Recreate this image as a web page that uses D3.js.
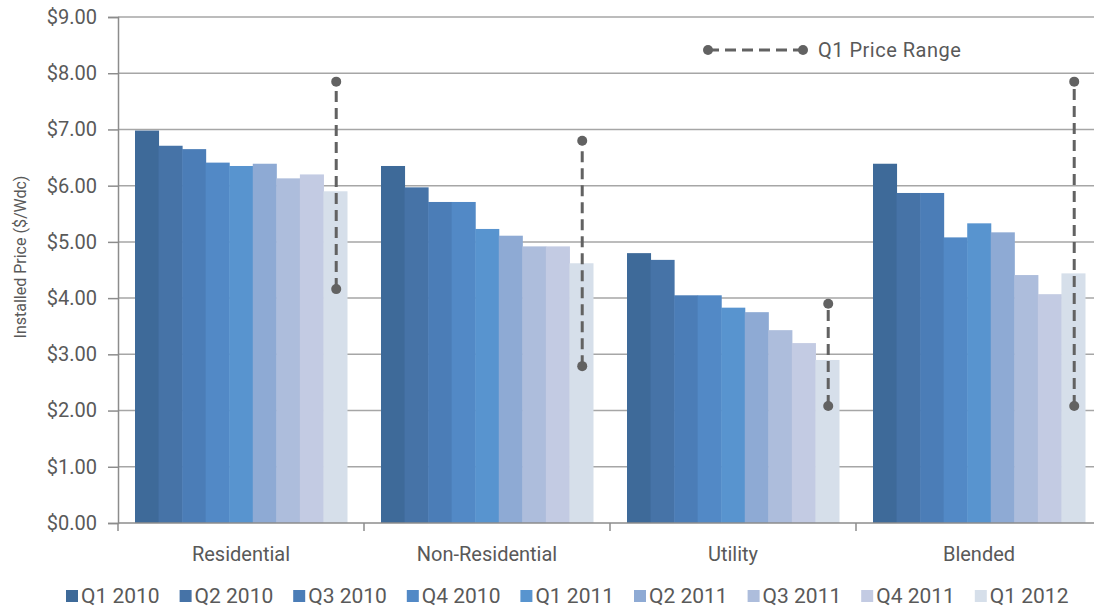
<!DOCTYPE html>
<html>
<head>
<meta charset="utf-8">
<script src="https://cdn.jsdelivr.net/npm/d3@7"></script>
<style>
  body { margin: 0; background: #fff; }
  text { font-family: "Roboto", "Liberation Sans", sans-serif; fill: #595959; }
</style>
</head>
<body>
<div id="chart"></div>
<script>
// categories and series
var categories = ["Residential", "Non-Residential", "Utility", "Blended"];
var quarters = ["Q1 2010", "Q2 2010", "Q3 2010", "Q4 2010", "Q1 2011", "Q2 2011", "Q3 2011", "Q4 2011", "Q1 2012"];
var residential    = [6.98, 6.71, 6.65, 6.41, 6.35, 6.39, 6.13, 6.20, 5.90];
var nonResidential = [6.35, 5.97, 5.71, 5.71, 5.23, 5.11, 4.92, 4.92, 4.62];
var utility        = [4.80, 4.68, 4.05, 4.05, 3.83, 3.75, 3.43, 3.20, 2.90];
var blended        = [6.39, 5.87, 5.87, 5.08, 5.33, 5.17, 4.41, 4.07, 4.44];
// Q1 2012 price range (low, high)
var rangeLow  = [4.16, 2.79, 2.08, 2.08];
var rangeHigh = [7.85, 6.80, 3.90, 7.85];
var yTicks = [0, 1, 2, 3, 4, 5, 6, 7, 8, 9];

var colors = ["#3e6a99", "#4673a7", "#4b7db7", "#5289c6", "#5894cf", "#8eaad4", "#adbddc", "#c3cbe3", "#d6dfea"];

var series = [residential, nonResidential, utility, blended];

var W = 1094, H = 609;
var margin = {top: 17, right: -8, bottom: 86, left: 118};
var width = W - margin.left - margin.right,
    height = H - margin.top - margin.bottom;

var svg = d3.select("#chart").append("svg")
    .attr("width", W)
    .attr("height", H);

var g = svg.append("g")
    .attr("transform", "translate(" + margin.left + "," + margin.top + ")");

var x0 = d3.scaleBand()
    .domain(categories)
    .range([0, width])
    .paddingInner(0)
    .paddingOuter(0);

var x1 = d3.scaleBand()
    .domain(quarters)
    .range([17, x0.bandwidth() - 17])
    .padding(0);

var y = d3.scaleLinear()
    .domain([0, 9])
    .range([height, 0]);

// gridlines
g.append("g")
    .selectAll("line")
    .data(yTicks.filter(function(d){ return d > 0; }))
  .enter().append("line")
    .attr("x1", 0)
    .attr("x2", width)
    .attr("y1", function(d){ return y(d); })
    .attr("y2", function(d){ return y(d); })
    .attr("stroke", "#a6a6a6")
    .attr("stroke-width", 1.5);

// bars
var groups = g.selectAll(".group")
    .data(categories)
  .enter().append("g")
    .attr("class", "group")
    .attr("transform", function(d){ return "translate(" + x0(d) + ",0)"; });

groups.selectAll("rect")
    .data(function(d, i){ return series[i].map(function(v, j){ return {q: quarters[j], v: v, c: colors[j]}; }); })
  .enter().append("rect")
    .attr("x", function(d){ return x1(d.q); })
    .attr("width", x1.bandwidth() + 0.5)
    .attr("y", function(d){ return y(d.v); })
    .attr("height", function(d){ return height - y(d.v); })
    .attr("fill", function(d){ return d.c; });

// price range markers on the Q1 2012 bar
var rangeColor = "#626262";
groups.each(function(d, i){
  var cx = x1("Q1 2012") + x1.bandwidth() / 2 + 1;
  var sel = d3.select(this);
  sel.append("line")
      .attr("x1", cx).attr("x2", cx)
      .attr("y1", y(rangeLow[i])).attr("y2", y(rangeHigh[i]))
      .attr("stroke", rangeColor)
      .attr("stroke-width", 3)
      .attr("stroke-dasharray", "11,6");
  sel.selectAll("circle")
      .data([rangeLow[i], rangeHigh[i]])
    .enter().append("circle")
      .attr("cx", cx)
      .attr("cy", function(v){ return y(v); })
      .attr("r", 5)
      .attr("fill", rangeColor);
});

// y axis
var yAxis = g.append("g")
    .call(d3.axisLeft(y).tickValues(yTicks).tickSize(10).tickPadding(11)
      .tickFormat(function(d){ return "$" + d3.format(".2f")(d); }));
yAxis.select(".domain").attr("stroke", "#8c8c8c").attr("stroke-width", 1.5);
yAxis.selectAll(".tick line").attr("stroke", "#8c8c8c").attr("stroke-width", 1.5);
yAxis.selectAll(".tick text")
    .style("font-size", "20px")
    .attr("fill", "#595959");

// x axis
var xAxisG = g.append("g")
    .attr("transform", "translate(0," + height + ")");
xAxisG.append("line")
    .attr("x1", 0).attr("x2", width)
    .attr("stroke", "#8c8c8c").attr("stroke-width", 1.5);
xAxisG.selectAll(".sep")
    .data(d3.range(categories.length + 1))
  .enter().append("line")
    .attr("x1", function(i){ return i * x0.bandwidth(); })
    .attr("x2", function(i){ return i * x0.bandwidth(); })
    .attr("y1", 0).attr("y2", 8)
    .attr("stroke", "#8c8c8c").attr("stroke-width", 1.5);
xAxisG.selectAll(".cat")
    .data(categories)
  .enter().append("text")
    .attr("x", function(d){ return x0(d) + x0.bandwidth() / 2; })
    .attr("y", 38)
    .attr("text-anchor", "middle")
    .style("font-size", "20px")
    .text(function(d){ return d; });

// y axis title
svg.append("text")
    .attr("transform", "translate(26,257) rotate(-90)")
    .attr("text-anchor", "middle")
    .style("font-size", "16px")
    .text("Installed Price ($/Wdc)");

// range legend
var rl = svg.append("g").attr("transform", "translate(708,50)");
rl.append("line")
    .attr("x1", 0).attr("x2", 95)
    .attr("stroke", rangeColor).attr("stroke-width", 3)
    .attr("stroke-dasharray", "11,6");
rl.selectAll("circle").data([0, 95]).enter().append("circle")
    .attr("cx", function(d){ return d; }).attr("r", 5).attr("fill", rangeColor);
rl.append("text")
    .attr("x", 110).attr("y", 7)
    .style("font-size", "20px")
    .style("letter-spacing", "0.5px")
    .text("Q1 Price Range");

// bottom legend
var legend = svg.append("g").attr("transform", "translate(66,596)");
var item = legend.selectAll(".item")
    .data(quarters)
  .enter().append("g")
    .attr("transform", function(d, i){ return "translate(" + (i * 113.6) + ",0)"; });
item.append("rect")
    .attr("x", 0).attr("y", -6)
    .attr("width", 12).attr("height", 12)
    .attr("fill", function(d, i){ return colors[i]; });
item.append("text")
    .attr("x", 15).attr("y", 7)
    .style("font-size", "21px")
    .text(function(d){ return d; });
</script>
</body>
</html>
